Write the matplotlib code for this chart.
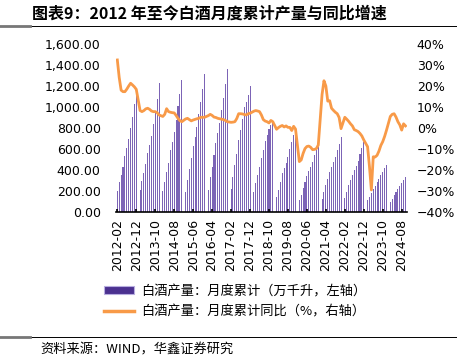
import numpy as np
import pandas as pd
import matplotlib
matplotlib.use("Agg")
import matplotlib.pyplot as plt
from matplotlib.patches import Patch
from matplotlib.lines import Line2D
from matplotlib.ticker import FuncFormatter, MultipleLocator
from matplotlib.font_manager import FontProperties

CJK = ["Noto Sans CJK SC", "DejaVu Sans"]

# baijiu output, cumulative (10k kl), Feb..Dec each year - January not published
prod_2012 = [200, 282, 352, 431, 533, 606, 691, 802, 907, 1024, 1140]
prod_2013 = [208, 300, 374, 460, 558, 638, 723, 834, 944, 1079, 1226]
prod_2014 = [203, 288, 380, 470, 590, 670, 760, 875, 1008, 1128, 1257]
prod_2015 = [193, 304, 406, 510, 628, 716, 805, 938, 1049, 1176, 1313]
prod_2016 = [209, 336, 431, 542, 653, 748, 843, 976, 1081, 1217, 1358]
prod_2017 = [216, 336, 447, 552, 685, 780, 881, 997, 1051, 1114, 1200]
prod_2018 = [194, 273, 352, 425, 511, 590, 679, 733, 787, 830, 871]
prod_2019 = [140, 210, 289, 368, 416, 470, 521, 600, 670, 735, 786]
prod_2020 = [114, 162, 225, 289, 343, 394, 432, 479, 543, 590, 620]
prod_2021 = [121, 194, 257, 311, 384, 432, 479, 527, 590, 648, 717]
prod_2022 = [130, 194, 257, 305, 352, 400, 438, 489, 550, 610, 671]
prod_2023 = [114, 146, 180, 215, 250, 285, 315, 350, 385, 418, 449]
prod_2024 = [95, 121, 162, 194, 216, 248, 279, 305, 337]

# cumulative yoy (%), same months
yoy_2012 = [32.4, 24.0, 18.0, 17.3, 17.3, 18.5, 20.0, 21.3, 20.5, 19.6, 18.4]
yoy_2013 = [8.3, 7.8, 8.3, 9.1, 9.4, 8.9, 8.1, 7.8, 7.8, 7.3, 6.2]
yoy_2014 = [5.5, 6.5, 9.2, 7.8, 7.5, 7.3, 7.2, 6.0, 4.6, 3.5, 3.0]
yoy_2015 = [4.3, 4.6, 4.0, 3.4, 3.8, 4.1, 4.4, 4.6, 5.1, 5.1, 5.1]
yoy_2016 = [5.9, 6.5, 6.0, 5.2, 5.0, 4.6, 4.4, 4.2, 4.0, 3.6, 3.0]
yoy_2017 = [2.7, 2.8, 3.0, 4.5, 6.8, 6.8, 6.7, 6.4, 6.2, 6.8, 7.0]
yoy_2018 = [8.0, 8.3, 8.1, 7.8, 6.2, 4.0, 3.3, 3.0, 2.4, 3.6, 3.0]
yoy_2019 = [-0.6, 0.2, 0.8, 1.2, 0.5, 1.0, 0.3, 0.3, -1.2, 0.8, -0.5]
yoy_2020 = [-16.0, -15.2, -12.1, -9.8, -8.8, -8.6, -9.2, -10.3, -10.2, -9.8, -8.1]
yoy_2021 = [16.0, 22.5, 20.0, 12.8, 13.0, 9.4, 8.4, 7.5, 6.8, 5.0, -0.3]
yoy_2022 = [5.1, 4.2, 3.2, 2.0, 1.0, -0.8, -1.2, -1.7, -2.6, -3.8, -5.7]
yoy_2023 = [-8.9, -18.4, -29.5, -13.7, -13.8, -13.0, -11.0, -8.3, -6.5, -4.0, -1.0]
yoy_2024 = [5.5, 6.5, 6.8, 5.2, 3.0, 1.5, -1.0, 2.0, 1.0]

prod_years = [prod_2012, prod_2013, prod_2014, prod_2015, prod_2016, prod_2017, prod_2018,
              prod_2019, prod_2020, prod_2021, prod_2022, prod_2023, prod_2024]
yoy_years = [yoy_2012, yoy_2013, yoy_2014, yoy_2015, yoy_2016, yoy_2017, yoy_2018,
             yoy_2019, yoy_2020, yoy_2021, yoy_2022, yoy_2023, yoy_2024]

prod, yoy = [], []
for i, (p, g) in enumerate(zip(prod_years, yoy_years)):
    if i > 0:  # empty January slot
        prod.append(np.nan); yoy.append(np.nan)
    prod += p; yoy += g
prod = np.array(prod, float); yoy = np.array(yoy, float)
months = pd.period_range("2012-02", periods=len(prod), freq="M")
x = np.arange(len(prod))

PURPLE = "#7c64b6"
ORANGE = "#f89a48"

fig = plt.figure(figsize=(4.57, 3.59), dpi=100)
ax = fig.add_axes([116/457, 1-212/359, 291/457, 168/359])
ax.bar(x, prod, width=0.55, color=PURPLE, linewidth=0)
ax.set_xlim(-0.7, 152.8)
ax.set_ylim(0, 1600)
ax.yaxis.set_major_locator(MultipleLocator(200))
ax.yaxis.set_major_formatter(FuncFormatter(lambda v, p: f"{v:,.2f}"))
for s in ["top", "left", "right"]:
    ax.spines[s].set_visible(False)
ax.spines["bottom"].set_linewidth(1.2)
ticks = x[::10]
ax.set_xticks(ticks)
ax.set_xticklabels([months[i].strftime("%Y-%m") for i in ticks], rotation=90)
ax.tick_params(axis="x", direction="in", length=2.5, width=1.2, labelsize=9, pad=5)
ax.tick_params(axis="y", length=0, labelsize=9, pad=11)

ax2 = ax.twinx()
ok = ~np.isnan(yoy)
ax2.plot(x[ok], yoy[ok], color=ORANGE, lw=2.0, solid_joinstyle="round")
ax2.set_ylim(-40, 40)
ax2.yaxis.set_major_locator(MultipleLocator(10))
ax2.yaxis.set_major_formatter(FuncFormatter(lambda v, p: f"{v:.0f}%".replace("-", "\u2212")))
ax2.tick_params(axis="y", length=0, labelsize=9, pad=7)
for s in ax2.spines.values():
    s.set_visible(False)

# title, rules, footer
fig.text(32/457, 1-14/359, "图表9：2012 年至今白酒月度累计产量与同比增速",
         fontsize=11.5, fontweight="bold", family=CJK, ha="left", va="center")
for yy in (26, 337):
    fig.add_artist(Line2D([0, 1], [1-yy/359]*2, color="black", lw=0.7))
    fig.add_artist(Line2D([0, 30/457], [1-yy/359]*2, color="#777777", lw=2))
fig.text(40/457, 1-350/359, "资料来源：WIND，华鑫证券研究",
         fontsize=9.5, family=CJK, ha="left", va="center")

handles = [Patch(facecolor="#4b3190", edgecolor="#b8aee0", lw=0.8),
           Line2D([], [], color=ORANGE, lw=2.5)]
labels = ["白酒产量：月度累计（万千升，左轴）", "白酒产量：月度累计同比（%，右轴）"]
fig.legend(handles, labels, loc="upper left", bbox_to_anchor=(104/457, 1-285/359),
           frameon=False, prop=FontProperties(family=CJK, size=9.5),
           handlelength=2.3, handleheight=0.55, labelspacing=0.55, handletextpad=0.5,
           borderpad=0, borderaxespad=0)

fig.savefig("out.png", dpi=100)
